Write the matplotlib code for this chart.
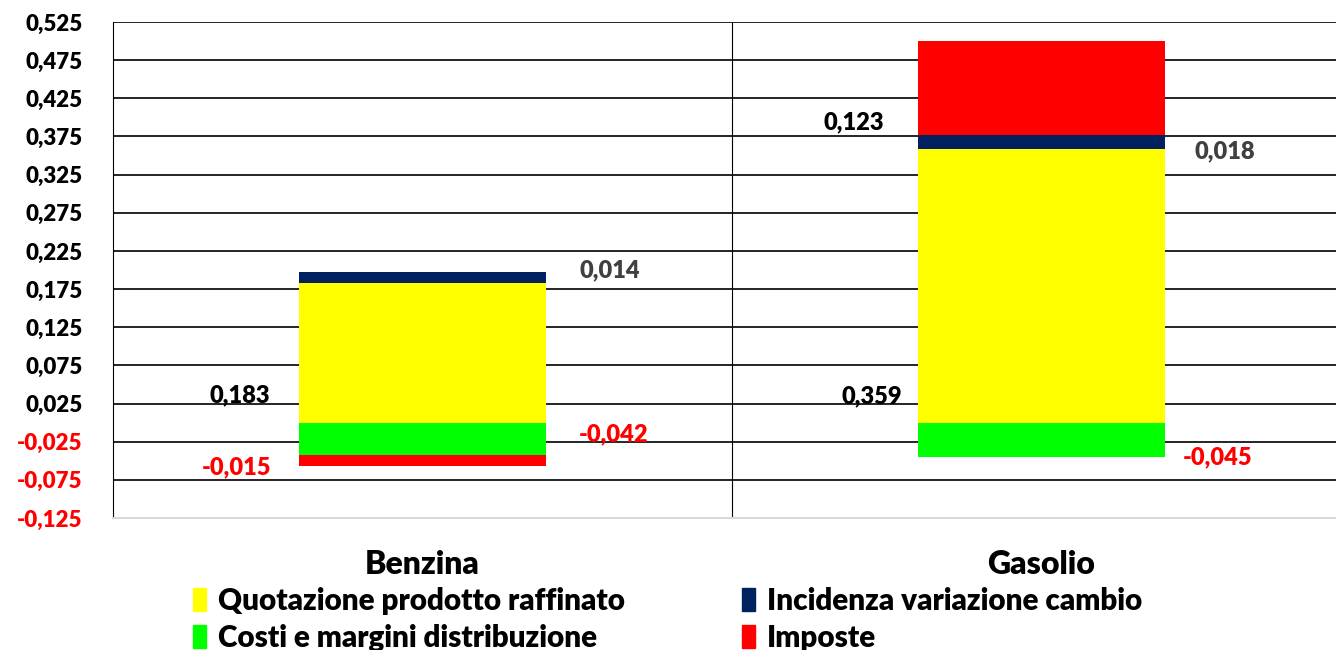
import numpy as np
import matplotlib.pyplot as plt
from matplotlib.patches import Patch

plt.rcParams['font.family'] = ['Lato', 'DejaVu Sans']
plt.rcParams['font.weight'] = 'heavy'

# dati
categorie = ['Benzina', 'Gasolio']
quotazione = [0.183, 0.359]
cambio = [0.014, 0.018]
imposte_pos = [0.0, 0.123]
costi = [-0.042, -0.045]
imposte_neg = [-0.015, 0.0]

serie_nomi = ['Quotazione prodotto raffinato', 'Costi e margini distribuzione',
              'Incidenza variazione cambio', 'Imposte']
tick_vals = np.arange(-0.125, 0.526, 0.05)

col_q = '#FFFF00'
col_c = '#00FF00'
col_i = '#002060'
col_t = '#FF0000'
W = 'heavy'

fig = plt.figure(figsize=(13.36, 6.5), dpi=100)
ax = fig.add_axes([113 / 1336, 132 / 650, 1238 / 1336, 496 / 650])

x = np.arange(len(categorie))
w = 0.4
q = np.array(quotazione)
ci = np.array(cambio)
ax.bar(x, q, w, color=col_q, zorder=3)
ax.bar(x, ci, w, bottom=q, color=col_i, zorder=3)
ax.bar(x, imposte_pos, w, bottom=q + ci, color=col_t, zorder=3)
ax.bar(x, costi, w, color=col_c, zorder=3)
ax.bar(x, imposte_neg, w, bottom=costi, color=col_t, zorder=3)

# etichette (offset x dal centro, y)
def lab(v):
    return ('%.3f' % v).replace('.', ',')

etichette = [
    (0, quotazione[0], -0.295, 0.036, 'black'),
    (0, cambio[0], 0.303, 0.199, '#404040'),
    (0, costi[0], 0.309, -0.015, 'red'),
    (0, imposte_neg[0], -0.30, -0.058, 'red'),
    (1, imposte_pos[1], -0.303, 0.394, 'black'),
    (1, cambio[1], 0.296, 0.356, '#404040'),
    (1, quotazione[1], -0.274, 0.034, 'black'),
    (1, costi[1], 0.284, -0.045, 'red'),
]
for i, v, dx, yy, c in etichette:
    ax.text(x[i] + dx, yy, lab(v), ha='center', va='center', color=c,
            fontsize=17, fontweight=W)

ax.set_xlim(-0.5, 1.5)
ax.set_ylim(-0.125, 0.525)
ax.set_yticks(tick_vals)
ax.set_yticklabels([lab(v) for v in tick_vals], fontsize=16, fontweight=W)
for t, v in zip(ax.get_yticklabels(), tick_vals):
    t.set_color('red' if v < 0 else 'black')
ax.set_xticks(x)
ax.set_xticklabels(categorie, fontsize=23, fontweight=W)
ax.tick_params(axis='both', length=0)
ax.tick_params(axis='y', pad=22)
ax.tick_params(axis='x', pad=23)

for v in tick_vals[1:]:
    ax.axhline(v, color='black', lw=1.2, zorder=1)
ax.axvline(0.5, color='black', lw=0.8, zorder=1)

ax.spines['top'].set_visible(False)
ax.spines['right'].set_visible(False)
ax.spines['left'].set_color('black')
ax.spines['left'].set_linewidth(0.8)
ax.spines['bottom'].set_color('#d9d9d9')
ax.spines['bottom'].set_linewidth(1.5)

handles = [Patch(color=col_q), Patch(color=col_c), Patch(color=col_i), Patch(color=col_t)]
fig.legend(handles, serie_nomi, ncol=2, loc='upper left',
           bbox_to_anchor=(193 / 1336, 63 / 650), frameon=False,
           prop={'size': 21.3, 'weight': W}, handlelength=0.45, handleheight=0.8,
           handletextpad=0.4, columnspacing=3.95, labelspacing=0.3,
           borderaxespad=0, borderpad=0)

fig.savefig('out.png', dpi=100)
